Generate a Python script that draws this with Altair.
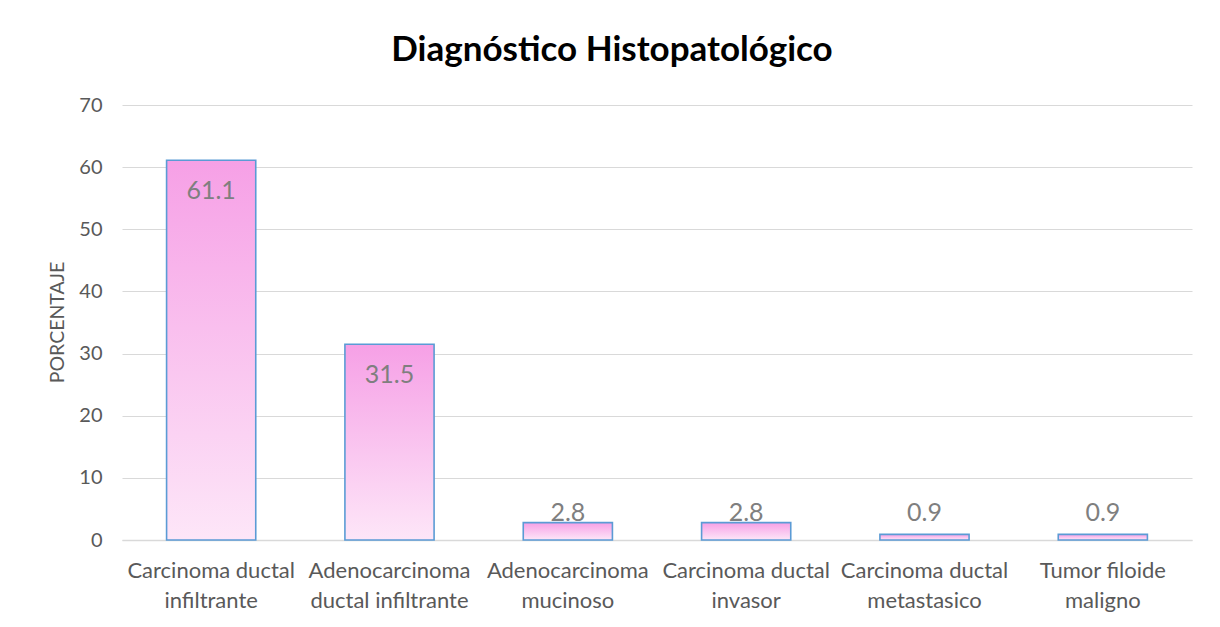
import altair as alt
import pandas as pd

categories = [
    "Carcinoma ductal|infiltrante",
    "Adenocarcinoma|ductal infiltrante",
    "Adenocarcinoma|mucinoso",
    "Carcinoma ductal|invasor",
    "Carcinoma ductal|metastasico",
    "Tumor filoide|maligno",
]
values = [61.1, 31.5, 2.8, 2.8, 0.9, 0.9]
y_ticks = [0, 10, 20, 30, 40, 50, 60, 70]

df = pd.DataFrame({"cat": categories, "val": values})

FONT = "Lato"
GRAY = "#595959"

x_enc = alt.X(
    "cat:N",
    sort=categories,
    title=None,
    scale=alt.Scale(paddingInner=0.5, paddingOuter=0.25),
    axis=alt.Axis(
        labelExpr="split(datum.label, '|')",
        labelAngle=0,
        labelFontSize=22,
        labelColor=GRAY,
        labelFont=FONT,
        labelLineHeight=30,
        labelPadding=20,
        labelBaseline="top",
        ticks=False,
        domainColor="#d9d9d9",
        domainWidth=1.5,
        grid=False,
    ),
)

bars = alt.Chart(df).mark_bar(
    color=alt.Gradient(
        gradient="linear",
        x1=0, y1=0, x2=0, y2=1,
        stops=[
            alt.GradientStop(color="#f6a0e6", offset=0),
            alt.GradientStop(color="#fde6f8", offset=1),
        ],
    ),
    stroke="#5b9bd5",
    strokeWidth=1.6,
).encode(
    x=x_enc,
    y=alt.Y(
        "val:Q",
        title="PORCENTAJE",
        scale=alt.Scale(domain=[0, 70], nice=False),
        axis=alt.Axis(
            values=y_ticks,
            labelFontSize=20,
            labelColor=GRAY,
            labelFont=FONT,
            labelPadding=20,
            ticks=False,
            domain=False,
            gridColor="#d9d9d9",
            gridWidth=1.2,
            titleFont=FONT,
            titleFontSize=19.5,
            titleFontWeight="normal",
            titleColor=GRAY,
            titleX=-65,
            titleY=217,
            titleAngle=-90,
            titleAlign="center",
            titleBaseline="middle",
        ),
    ),
)

labels = alt.Chart(df).transform_calculate(
    pos="max(datum.val - 4.9, 4.3)"
).mark_text(
    font=FONT, fontSize=25, color="#7f7f7f", baseline="middle", align="center"
).encode(
    x=alt.X("cat:N", sort=categories),
    y=alt.Y("pos:Q"),
    text=alt.Text("val:Q", format=".1f"),
)

chart = (
    alt.layer(bars, labels)
    .properties(
        width=1070,
        height=435,
        background="white",
        autosize=alt.AutoSizeParams(type="none"),
        padding={"left": 114, "top": 97, "right": 20, "bottom": 80},
        title=alt.TitleParams(
            "Diagnóstico Histopatológico",
            font=FONT,
            fontSize=35,
            fontWeight="bold",
            color="#000000",
            anchor="middle",
            dx=-45,
            offset=27,
        ),
    )
    .configure_view(strokeWidth=0, stroke="transparent")
)

chart.save("out.html", embed_options={"renderer": "svg", "actions": False})
